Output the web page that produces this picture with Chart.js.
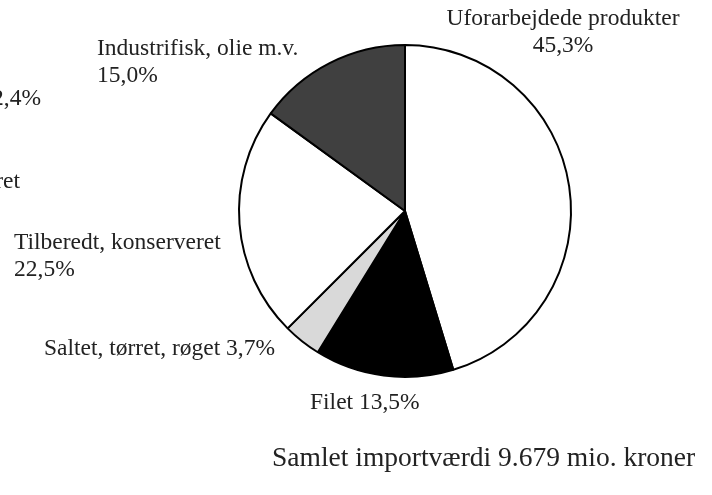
<!DOCTYPE html>
<html>
<head>
<meta charset="utf-8">
<script src="https://cdn.jsdelivr.net/npm/chart.js@4/dist/chart.umd.min.js"></script>
<style>
  html, body { margin: 0; padding: 0; background: #fff; }
  #wrap { width: 712px; height: 495px; }
</style>
</head>
<body>
<div id="wrap"><canvas id="pie"></canvas></div>
<script>
const categories = ['Uforarbejdede produkter', 'Filet', 'Saltet, tørret, røget', 'Tilberedt, konserveret', 'Industrifisk, olie m.v.'];
const shares = [45.3, 13.5, 3.7, 22.5, 15.0];
const sliceColors = ['#ffffff', '#000000', '#d9d9d9', '#ffffff', '#404040'];
const footnote = 'Samlet importværdi 9.679 mio. kroner';

const fmt = v => v.toFixed(1).replace('.', ',') + '%';

// label text for each slice, placed by hand like the original
const labelSpots = [
    { lines: [categories[0], fmt(shares[0])], x: 563, y: 19, align: 'center' },
    { lines: [categories[1] + ' ' + fmt(shares[1])], x: 310, y: 403, align: 'left' },
    { lines: [categories[2] + ' ' + fmt(shares[2])], x: 44, y: 349, align: 'left' },
    { lines: [categories[3], fmt(shares[3])], x: 14, y: 243, align: 'left' },
    { lines: [categories[4], fmt(shares[4])], x: 97, y: 49, align: 'left' }
];

const labelPlugin = {
    id: 'labels',
    afterDraw(chart) {
        const ctx = chart.ctx;
        ctx.save();
        ctx.fillStyle = '#222';
        ctx.textBaseline = 'middle';
        ctx.font = '23.5px "Liberation Serif", serif';
        labelSpots.forEach(s => {
            ctx.textAlign = s.align;
            s.lines.forEach((t, i) => ctx.fillText(t, s.x, s.y + i * 27));
        });
        // clipped fragments from a neighbouring figure at the left edge
        ctx.textAlign = 'right';
        ctx.fillText('2,4%', 41, 99);
        ctx.fillText('ret', 20, 182);
        ctx.font = '27.5px "Liberation Serif", serif';
        ctx.textAlign = 'left';
        ctx.fillText(footnote, 272, 459);
        ctx.restore();
    }
};

new Chart(document.getElementById('pie'), {
    type: 'pie',
    data: {
        labels: categories,
        datasets: [{
            data: shares,
            backgroundColor: sliceColors,
            borderColor: '#000',
            borderWidth: 2
        }]
    },
    options: {
        responsive: true,
        maintainAspectRatio: false,
        animation: false,
        layout: { padding: { left: 238, right: 140, top: 44, bottom: 117 } },
        plugins: {
            legend: { display: false },
            tooltip: { enabled: false }
        }
    },
    plugins: [labelPlugin]
});
</script>
</body>
</html>
